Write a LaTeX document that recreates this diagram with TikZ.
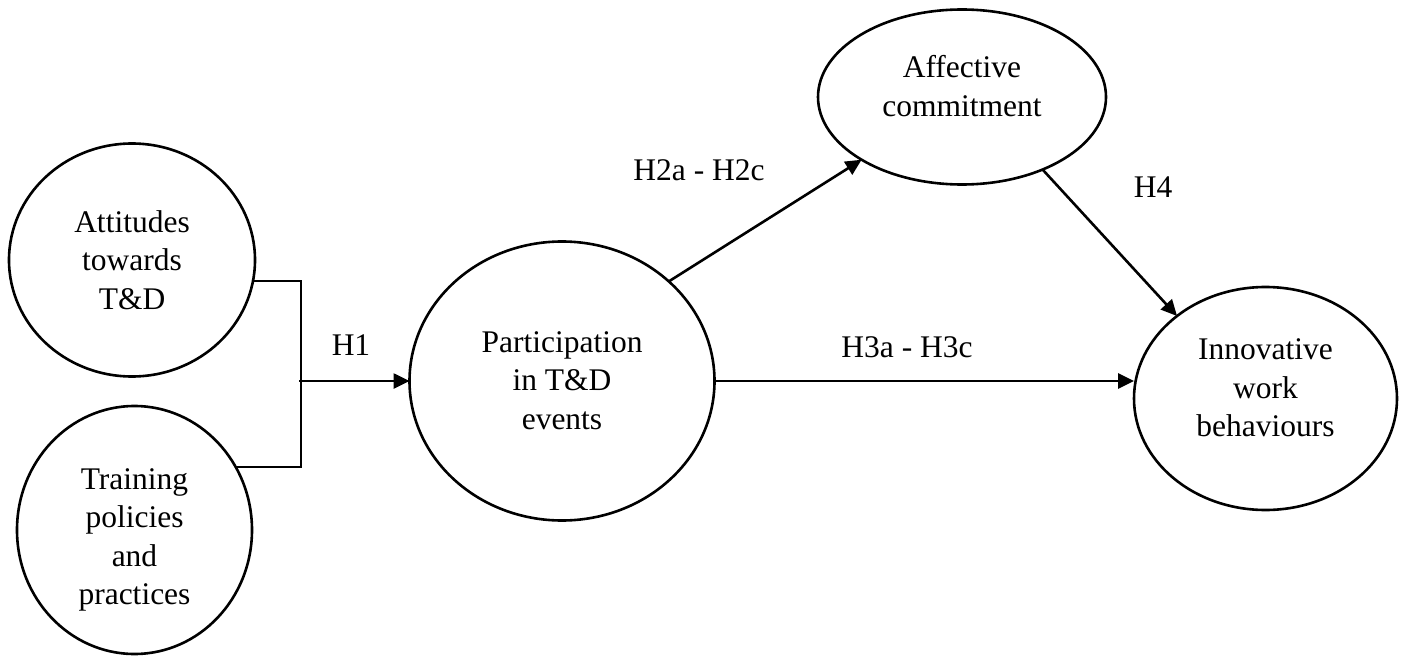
\documentclass[tikz,border=0pt]{standalone}
\usepackage{fontspec}
\setmainfont{Liberation Serif}
\usetikzlibrary{shapes.geometric,arrows.meta}
\tikzset{
  oval/.style={draw, ellipse, line width=2.6pt, inner sep=0pt, outer sep=0pt},
  txt/.style={align=center, inner sep=0pt, anchor=north, font=\fontsize{31.5}{38.5}\selectfont},
  hyp/.style={inner sep=0pt, anchor=base, font=\fontsize{31.5}{38.5}\selectfont},
  conn/.style={line width=2.6pt},
  arr/.style={line width=2.6pt, -{Triangle[length=16pt,width=15pt]}}
}
\begin{document}
\begin{tikzpicture}[x=1pt,y=-1pt]
\useasboundingbox (0,0) rectangle (1405,658);
% ovals
\node[oval, minimum width=246pt, minimum height=233pt] (att) at (132,260) {};
\node[oval, minimum width=235pt, minimum height=248pt] (trn) at (134.5,530) {};
\node[oval, minimum width=305pt, minimum height=279pt] (part) at (562,381) {};
\node[oval, minimum width=288pt, minimum height=175pt] (aff) at (962,97) {};
\node[oval, minimum width=263pt, minimum height=223pt] (innov) at (1265.5,398.5) {};
% texts
\node[txt] (attT) at (132,210) {Attitudes\\towards\\T\&D};
\node[txt] (trnT) at (134.5,468) {Training\\policies\\and\\practices};
\node[txt] (partT) at (562,331) {Participation\\in T\&D\\events};
\node[txt] (affT) at (962,55.5) {Affective\\commitment};
\node[txt] (innovT) at (1265.5,338.5) {Innovative\\work\\behaviours};
% bracket
\coordinate (b1) at (301,281);
\coordinate (b2) at (301,467);
\coordinate (j) at (299,381);
\draw[conn] (b1 -| att.-10) -- (b1) -- (b2) -- (b2 -| trn.31.6);
% arrows
\draw[arr] (j) -- (part.west);
\draw[arr] (part.43) -- (aff.212.4);
\draw[arr] (part.east) -- (part.east -| innov.west);
\draw[arr] (aff.318.5) -- (innov.137.3);
% labels
\node[hyp] (h1) at (351,355) {H1};
\node[hyp] (h2) at (699,180) {H2a - H2c};
\node[hyp] (h3) at (907,357) {H3a - H3c};
\node[hyp] (h4) at (1153,197) {H4};
\end{tikzpicture}
\end{document}
